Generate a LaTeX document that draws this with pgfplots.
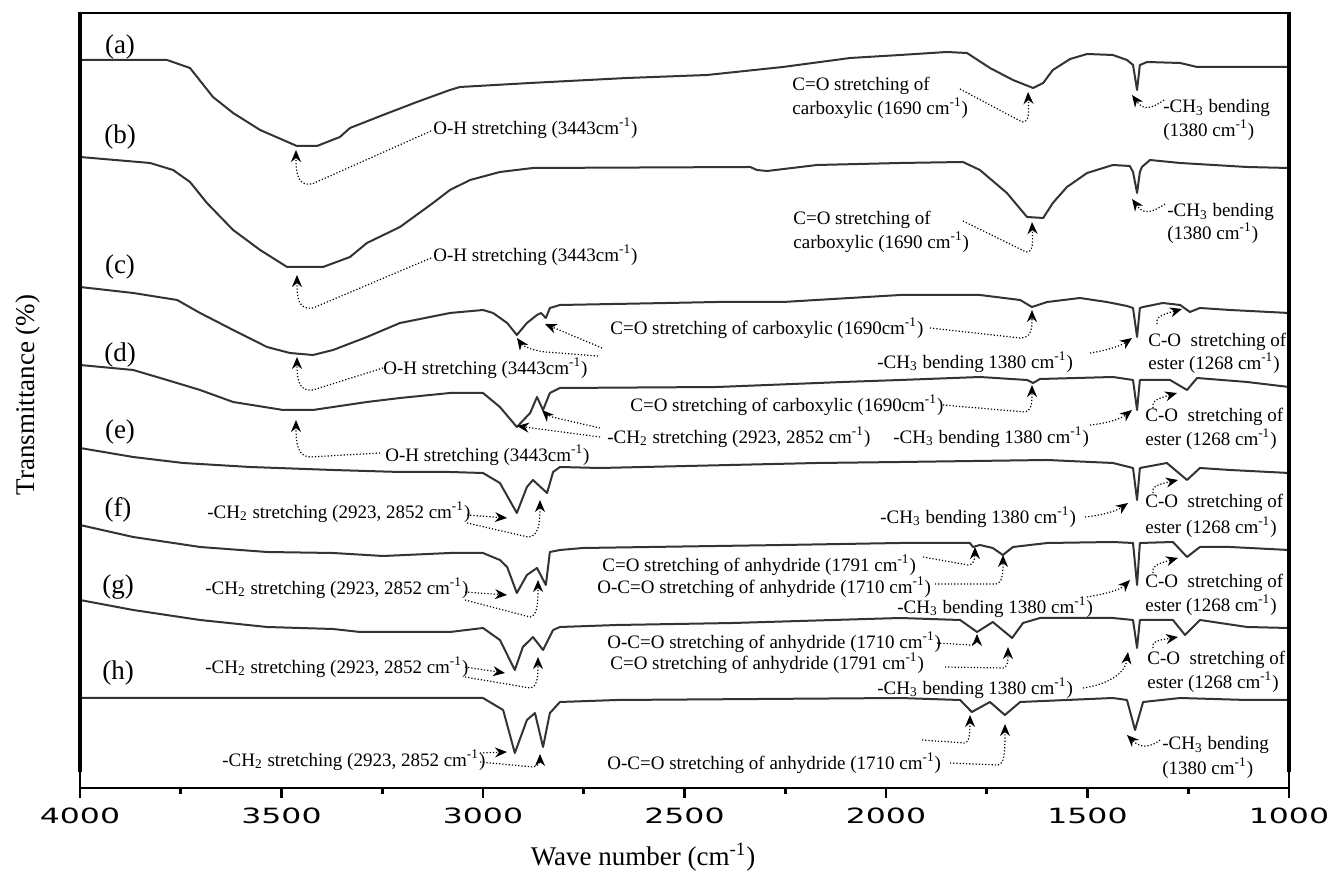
\documentclass[border=0pt]{standalone}
\usepackage{graphicx}
\usepackage{pgfplots}
\pgfplotsset{compat=1.18}
\usepackage{fontspec}
\setmainfont{Liberation Serif}
\newfontfamily\dejavu{DejaVu Sans}
\usetikzlibrary{arrows.meta}
\newcommand\tk[1]{\scalebox{1.5}[1]{#1}}
\newcommand\cmi{cm\textsuperscript{-1}}
\tikzset{
  ann/.style={line width=0.6pt, dash pattern=on 0.6pt off 1pt, -{Stealth[length=6pt,width=5pt]}},
  t/.style={anchor=west, inner sep=0pt, font=\fontsize{9.5}{11}\selectfont},
  lab/.style={anchor=center, inner sep=0pt, font=\fontsize{13.5}{16}\selectfont}
}
\begin{document}
\begin{tikzpicture}
\useasboundingbox (-40pt,-42pt) rectangle (626.5pt,394pt);
\begin{axis}[
  at={(0,0)}, anchor=south west,
  scale only axis, width=604.5pt, height=387.5pt,
  xmin=1000, xmax=4000, ymin=12, ymax=787, x dir=reverse,
  axis x line*=bottom, axis y line=none,
  x axis line style={-, line width=1.3pt},
  xtick={1000,1500,2000,2500,3000,3500,4000},
  xticklabels={\tk{1000},\tk{1500},\tk{2000},\tk{2500},\tk{3000},\tk{3500},\tk{4000}},
  minor x tick num=1, tick align=outside,
  major tick length=5pt, minor tick length=3pt,
  every tick/.style={black, line width=1.3pt},
  xticklabel style={font=\dejavu\fontsize{10.5}{12}\selectfont, inner sep=0pt, anchor=north, yshift=-5pt},
  clip=false,
  no markers,
  every axis plot post/.append style={black!80, solid, line width=1pt, line join=round, mark=none}
]
% (a)
\addplot coordinates {(4000,740)(3784,740)(3727,732)(3670,703)(3620,687)(3553,670)(3496,660)(3462,654)(3412,654)(3355,663)(3330,672)(3248,685)(3164,698)(3082,710)(3057,713)(2883,717)(2643,722)(2444,725)(2256,733)(2089,742)(1965,745)(1849,748)(1799,747)(1742,732)(1685,720)(1635,712)(1610,717)(1586,730)(1543,741)(1501,746)(1437,745)(1402,740)(1387,735)(1377,710)(1370,735)(1352,738)(1270,737)(1228,733)(1129,733)(1000,733)};
% (b)
\addplot coordinates {(4000,643)(3826,637)(3769,630)(3727,618)(3685,597)(3620,570)(3553,550)(3486,533)(3397,533)(3330,543)(3288,557)(3206,573)(3124,597)(3082,610)(3032,620)(2958,628)(2876,632)(2337,633)(2320,630)(2295,629)(2171,635)(1965,637)(1809,638)(1767,630)(1700,607)(1650,583)(1610,582)(1586,597)(1551,613)(1501,627)(1437,635)(1395,634)(1387,628)(1377,607)(1370,628)(1365,633)(1345,640)(1270,637)(1104,633)(1000,632)};
% (c)
\addplot coordinates {(4000,513)(3868,507)(3759,500)(3702,487)(3620,470)(3536,453)(3479,447)(3422,445)(3372,450)(3288,463)(3206,477)(3082,487)(3000,490)(2975,487)(2940,477)(2916,465)(2891,477)(2866,485)(2856,487)(2844,482)(2834,492)(2809,495)(2543,497)(2419,498)(2256,498)(1965,505)(1767,505)(1667,500)(1638,493)(1600,498)(1519,502)(1452,498)(1402,494)(1387,492)(1377,463)(1370,492)(1362,493)(1313,497)(1270,495)(1246,488)(1221,492)(1146,490)(1000,487)};
% (d)
\addplot coordinates {(4000,435)(3868,430)(3784,420)(3702,410)(3620,398)(3496,390)(3422,390)(3372,393)(3288,398)(3206,402)(3082,407)(3000,407)(2958,393)(2916,373)(2883,387)(2866,403)(2851,390)(2834,407)(2809,412)(2419,413)(2107,418)(1965,420)(1767,423)(1650,420)(1635,417)(1618,421)(1437,423)(1387,420)(1377,390)(1370,420)(1295,420)(1253,410)(1228,422)(1104,418)(1000,413)};
% (e)
\addplot coordinates {(4000,352)(3868,343)(3744,337)(3578,333)(3372,330)(3206,328)(3082,328)(3000,327)(2958,317)(2916,287)(2891,313)(2876,320)(2841,307)(2826,328)(2809,333)(2710,332)(2171,337)(1965,338)(1600,340)(1437,337)(1387,332)(1377,300)(1370,332)(1303,337)(1253,320)(1221,332)(1146,330)(1000,327)};
% (f)
\addplot coordinates {(4000,275)(3868,263)(3702,253)(3536,248)(3372,247)(3248,244)(3082,247)(3000,247)(2958,240)(2940,233)(2916,207)(2891,225)(2866,232)(2844,215)(2834,248)(2809,250)(2752,252)(2256,255)(1965,257)(1792,257)(1784,253)(1767,255)(1735,252)(1710,245)(1685,253)(1600,257)(1437,258)(1387,257)(1377,215)(1370,257)(1288,258)(1253,243)(1221,253)(1146,253)(1000,250)};
% (g)
\addplot coordinates {(4000,200)(3868,190)(3702,180)(3536,173)(3372,171)(3305,168)(3082,168)(3000,172)(2958,160)(2921,130)(2901,153)(2876,163)(2851,150)(2826,170)(2809,173)(2668,175)(2380,177)(2132,180)(1965,182)(1816,180)(1774,168)(1735,178)(1687,162)(1660,177)(1618,182)(1437,182)(1387,180)(1377,152)(1370,180)(1288,180)(1258,165)(1221,180)(1104,173)(1000,172)};
% (h)
\addplot coordinates {(4000,102)(3082,102)(3000,102)(2950,90)(2921,47)(2891,80)(2871,87)(2851,53)(2834,87)(2809,98)(2668,100)(1965,102)(1816,100)(1787,88)(1742,98)(1705,85)(1667,98)(1437,102)(1402,100)(1382,70)(1362,98)(1270,102)(1104,100)(1000,100)};
\end{axis}
\begin{scope}[shift={(-40pt,394pt)},x=0.5pt,y=-0.5pt]
% frame
\draw[line width=1pt] (80,13)--(1289,13);
\draw[line width=2pt] (80,12)--(80,772);
\draw[line width=2pt] (1289,12)--(1289,772);
\draw[line width=1pt] (80,772)--(80,788);
\draw[line width=1pt] (1289,772)--(1289,788);
% axis titles
\node[lab, rotate=90] at (28,395) {Transmittance (\%)};
\node[lab] at (643,857) {Wave number (\cmi)};
% curve labels
\node[lab] at (120,47) {(a)};
\node[lab] at (120,137) {(b)};
\node[lab] at (120,267) {(c)};
\node[lab] at (120,355) {(d)};
\node[lab] at (120,432) {(e)};
\node[lab] at (118,510) {(f)};
\node[lab] at (118,587) {(g)};
\node[lab] at (118,673) {(h)};
% row a
\node[t] at (433,128) {O-H stretching (3443\cmi)};
\draw[ann] (431,131) -- (312,184) .. controls (298,186) and (296,175) .. (296,150);
\node[t] at (792,86) {C=O stretching of};
\node[t] at (792,108) {carboxylic (1690 \cmi)};
\draw[ann] (960,89) -- (1022,122) .. controls (1029,122) and (1029,115) .. (1028,92);
\node[t] at (1163,108) {-CH\textsubscript{3} bending};
\node[t] at (1163,130) {(1380 \cmi)};
\draw[ann] (1164,100) .. controls (1150,110) and (1143,110) .. (1132,95);
% row b
\node[t] at (433,255) {O-H stretching (3443\cmi)};
\draw[ann] (431,258) -- (313,308) .. controls (299,310) and (297,300) .. (297,275);
\node[t] at (793,220) {C=O stretching of};
\node[t] at (793,242) {carboxylic (1690 \cmi)};
\draw[ann] (963,221) -- (1026,252) .. controls (1033,252) and (1033,245) .. (1032,222);
\node[t] at (1167,212) {-CH\textsubscript{3} bending};
\node[t] at (1167,233) {(1380 \cmi)};
\draw[ann] (1165,204) .. controls (1150,214) and (1143,214) .. (1132,199);
% row c
\node[t] at (383,368) {O-H stretching (3443\cmi)};
\draw[ann] (383,368) -- (313,390) .. controls (299,392) and (297,380) .. (297,357);
\node[t] at (610,328) {C=O stretching of carboxylic (1690\cmi)};
\draw[ann] (930,328) -- (1020,338) .. controls (1031,338) and (1032,330) .. (1032,310);
\draw[ann] (602,348) -- (545,324);
\draw[ann] (598,356) -- (545,352) .. controls (530,350) and (522,345) .. (517,338);
\node[t] at (877,362) {-CH\textsubscript{3} bending 1380 \cmi)};
\draw[ann] (1090,353) .. controls (1110,350) and (1122,345) .. (1132,338);
\node[t] at (1148,342) {C-O\ \ stretching of};
\node[t] at (1148,363) {ester (1268 \cmi)};
\draw[ann] (1157,324) .. controls (1155,316) and (1165,314) .. (1182,309);
% row d
\node[t] at (385,455) {O-H stretching (3443\cmi)};
\draw[ann] (380,453) -- (310,457) .. controls (298,456) and (296,445) .. (296,420);
\node[t] at (630,405) {C=O stretching of carboxylic (1690\cmi)};
\draw[ann] (943,405) -- (1025,412) .. controls (1032,410) and (1032,402) .. (1032,385);
\node[t] at (607,437) {-CH\textsubscript{2} stretching (2923, 2852 \cmi)};
\draw[ann] (600,437) -- (517,426);
\draw[ann] (600,428) -- (552,417) .. controls (548,415) and (545,413) .. (542,410);
\node[t] at (893,437) {-CH\textsubscript{3} bending 1380 \cmi)};
\draw[ann] (1090,425) .. controls (1110,423) and (1122,418) .. (1132,410);
\node[t] at (1145,417) {C-O\ \ stretching of};
\node[t] at (1145,439) {ester (1268 \cmi)};
\draw[ann] (1153,408) .. controls (1151,400) and (1160,398) .. (1177,393);
% row e
\node[t] at (207,512) {-CH\textsubscript{2} stretching (2923, 2852 \cmi)};
\draw[ann] (467,515) -- (507,518);
\draw[ann] (467,523) -- (528,537) .. controls (538,537) and (540,525) .. (540,500);
\node[t] at (880,517) {-CH\textsubscript{3} bending 1380 \cmi)};
\draw[ann] (1085,517) .. controls (1105,515) and (1118,510) .. (1128,503);
\node[t] at (1145,503) {C-O\ \ stretching of};
\node[t] at (1145,527) {ester (1268 \cmi)};
\draw[ann] (1153,493) .. controls (1151,486) and (1160,484) .. (1178,480);
% row f
\node[t] at (205,588) {-CH\textsubscript{2} stretching (2923, 2852 \cmi)};
\draw[ann] (465,592) -- (507,595);
\draw[ann] (465,600) -- (530,617) .. controls (537,616) and (538,605) .. (538,580);
\node[t] at (602,565) {C=O stretching of anhydride (1791 \cmi)};
\draw[ann] (923,557) -- (968,565) .. controls (973,565) and (975,560) .. (975,547);
\node[t] at (597,587) {O-C=O stretching of anhydride (1710 \cmi)};
\draw[ann] (935,584) -- (996,584) .. controls (1002,583) and (1003,575) .. (1003,555);
\node[t] at (897,607) {-CH\textsubscript{3} bending 1380 \cmi)};
\draw[ann] (1087,597) .. controls (1105,594) and (1120,590) .. (1130,580);
\node[t] at (1145,583) {C-O\ \ stretching of};
\node[t] at (1145,605) {ester (1268 \cmi)};
\draw[ann] (1153,573) .. controls (1151,566) and (1160,563) .. (1178,558);
% row g
\node[t] at (205,667) {-CH\textsubscript{2} stretching (2923, 2852 \cmi)};
\draw[ann] (465,667) -- (505,673);
\draw[ann] (465,677) -- (530,688) .. controls (537,687) and (538,678) .. (538,657);
\node[t] at (607,642) {O-C=O stretching of anhydride (1710 \cmi)};
\draw[ann] (937,643) -- (970,645) .. controls (976,644) and (977,640) .. (977,634);
\node[t] at (610,663) {C=O stretching of anhydride (1791 \cmi)};
\draw[ann] (945,667) -- (1003,668) .. controls (1008,667) and (1008,660) .. (1008,647);
\node[t] at (877,688) {-CH\textsubscript{3} bending 1380 \cmi)};
\draw[ann] (1083,688) .. controls (1105,685) and (1125,675) .. (1128,652);
\node[t] at (1147,660) {C-O\ \ stretching of};
\node[t] at (1147,682) {ester (1268 \cmi)};
\draw[ann] (1153,648) .. controls (1151,641) and (1160,640) .. (1178,637);
% row h
\node[t] at (222,760) {-CH\textsubscript{2} stretching (2923, 2852 \cmi)};
\draw[ann] (480,753) -- (507,752);
\draw[ann] (480,762) -- (533,767) .. controls (539,766) and (540,762) .. (540,754);
\node[t] at (607,763) {O-C=O stretching of anhydride (1710 \cmi)};
\draw[ann] (950,763) -- (998,765) .. controls (1004,764) and (1005,755) .. (1005,724);
\draw[ann] (922,740) -- (965,743) .. controls (969,742) and (970,735) .. (970,715);
\node[t] at (1162,745) {-CH\textsubscript{3} bending};
\node[t] at (1162,768) {(1380 \cmi)};
\draw[ann] (1160,740) .. controls (1150,748) and (1140,748) .. (1127,735);
\end{scope}
\end{tikzpicture}
\end{document}
